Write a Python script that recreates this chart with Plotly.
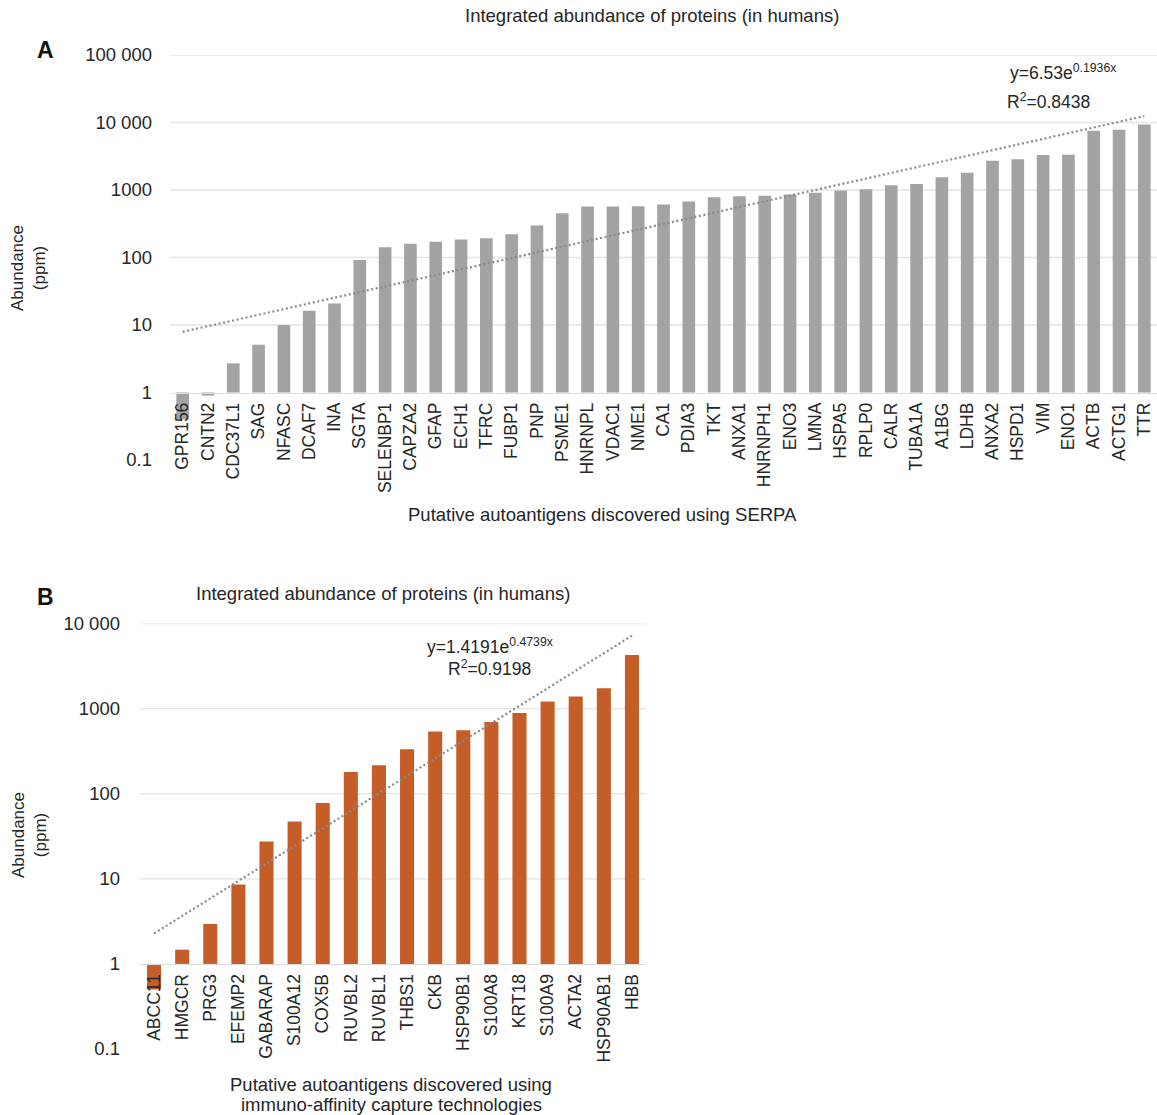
import math
import plotly.graph_objects as go

# ---------------- data ----------------
serpa_genes = [
    "GPR156", "CNTN2", "CDC37L1", "SAG", "NFASC", "DCAF7", "INA", "SGTA",
    "SELENBP1", "CAPZA2", "GFAP", "ECH1", "TFRC", "FUBP1", "PNP", "PSME1",
    "HNRNPL", "VDAC1", "NME1", "CA1", "PDIA3", "TKT", "ANXA1", "HNRNPH1",
    "ENO3", "LMNA", "HSPA5", "RPLP0", "CALR", "TUBA1A", "A1BG", "LDHB",
    "ANXA2", "HSPD1", "VIM", "ENO1", "ACTB", "ACTG1", "TTR",
]
serpa_ppm = [
    0.40, 0.90, 2.7, 5.1, 10.0, 16.2, 20.8, 92,
    142, 160, 171, 185, 193, 221, 298, 454,
    570, 570, 575, 610, 675, 783, 810, 820,
    858, 908, 984, 1028, 1180, 1225, 1549, 1796,
    2706, 2860, 3290, 3320, 7530, 7800, 9330,
]
serpa_fit_a, serpa_fit_b, serpa_r2 = 6.53, 0.1936, 0.8438

iac_genes = [
    "ABCC11", "HMGCR", "PRG3", "EFEMP2", "GABARAP", "S100A12", "COX5B",
    "RUVBL2", "RUVBL1", "THBS1", "CKB", "HSP90B1", "S100A8", "KRT18",
    "S100A9", "ACTA2", "HSP90AB1", "HBB",
]
iac_ppm = [
    0.50, 1.47, 2.95, 8.55, 27.4, 47, 78,
    180, 216, 333, 537, 557, 698, 890,
    1208, 1384, 1738, 4276,
]
iac_fit_a, iac_fit_b, iac_r2 = 1.4191, 0.4739, 0.9198

tickvals_a = [0.1, 1, 10, 100, 1000, 10000, 100000]
ticktext_a = ["0.1", "1", "10", "100", "1000", "10 000", "100 000"]
tickvals_b = [0.1, 1, 10, 100, 1000, 10000]
ticktext_b = ["0.1", "1", "10", "100", "1000", "10 000"]

BASELINE = 1  # bars grow up or down from the 1 ppm line

# ---------------- styling ----------------
W, H = 1157, 1115
FONT = "Liberation Sans, Arial, Helvetica, sans-serif"
TXT = "#262626"
GREY_BAR = "#a3a3a6"
ORANGE_BAR = "#c55d29"
TREND = "#8a8a8a"
GRID = "#e4e4e4"


def px(x):
    return x / W


def py(y):
    return 1 - y / H


def expo(a, b, n):
    """Exponential trend a*e^(b*x) evaluated at category index x = 1..n."""
    return [a * math.exp(b * (i + 1)) for i in range(n)]


fig = go.Figure()

# Panel A bars + exponential trend
fig.add_trace(go.Bar(
    x=serpa_genes, y=[v - BASELINE for v in serpa_ppm], base=BASELINE,
    marker=dict(color=GREY_BAR, line=dict(width=0)),
    xaxis="x", yaxis="y", showlegend=False,
))
fig.add_trace(go.Scatter(
    x=serpa_genes, y=expo(serpa_fit_a, serpa_fit_b, len(serpa_genes)),
    mode="lines", line=dict(color=TREND, width=2.2, dash="2px,2.6px"),
    xaxis="x", yaxis="y", showlegend=False,
))

# Panel B bars + exponential trend
fig.add_trace(go.Bar(
    x=iac_genes, y=[v - BASELINE for v in iac_ppm], base=BASELINE,
    marker=dict(color=ORANGE_BAR, line=dict(width=0)),
    xaxis="x2", yaxis="y2", showlegend=False,
))
fig.add_trace(go.Scatter(
    x=iac_genes, y=expo(iac_fit_a, iac_fit_b, len(iac_genes)),
    mode="lines", line=dict(color=TREND, width=2.2, dash="2px,2.6px"),
    xaxis="x2", yaxis="y2", showlegend=False,
))

dom_a_x = [px(170), 1.0]
dom_a_y = [py(460), py(55)]
dom_b_x = [px(140), px(646)]
dom_b_y = [py(1049), py(623.5)]

# x axis line sits on the 1 ppm level
pos_a = dom_a_y[0] + (dom_a_y[1] - dom_a_y[0]) * (0 - (-1)) / (5 - (-1))
pos_b = dom_b_y[0] + (dom_b_y[1] - dom_b_y[0]) * (0 - (-1)) / (4 - (-1))

xcommon = dict(
    type="category", tickangle=-90, ticks="", showgrid=False, zeroline=False,
    showline=True, linecolor="#dcdcdc", linewidth=1.3, automargin=False,
    tickfont=dict(family=FONT, size=17.5, color=TXT), ticklabelstandoff=2,
    anchor="free", fixedrange=True,
)
ycommon = dict(
    type="log", showgrid=False, zeroline=False, showline=False, ticks="",
    automargin=False, tickfont=dict(family=FONT, size=18.5, color=TXT),
    ticklabelstandoff=17, fixedrange=True,
)

fig.update_layout(
    width=W, height=H,
    margin=dict(l=0, r=0, t=0, b=0),
    paper_bgcolor="white", plot_bgcolor="white",
    bargap=0.5,
    xaxis=dict(xcommon, domain=dom_a_x, position=pos_a,
               range=[-0.5, len(serpa_genes) - 0.5]),
    yaxis=dict(ycommon, domain=dom_a_y, anchor="x", range=[-1, 5],
               tickvals=tickvals_a, ticktext=ticktext_a),
    xaxis2=dict(xcommon, domain=dom_b_x, position=pos_b,
                range=[-0.5, len(iac_genes) - 0.5]),
    yaxis2=dict(ycommon, domain=dom_b_y, anchor="x2", range=[-1, 4],
                tickvals=tickvals_b, ticktext=ticktext_b,
                ticklabelstandoff=19),
)

# horizontal gridlines (none at the 0.1 level)
shapes = []
for v in tickvals_a[2:]:
    shapes.append(dict(type="line", xref="x domain", yref="y", x0=0, x1=1,
                       y0=v, y1=v, line=dict(color=GRID, width=1.3),
                       layer="below"))
for v in tickvals_b[2:]:
    shapes.append(dict(type="line", xref="x2 domain", yref="y2", x0=0, x1=1,
                       y0=v, y1=v, line=dict(color=GRID, width=1.3),
                       layer="below"))
fig.update_layout(shapes=shapes)


def note(text, x, y, size=18.5, xanchor="center", angle=0, bold=False):
    fig.add_annotation(
        text=f"<b>{text}</b>" if bold else text,
        x=px(x), y=py(y), xref="paper", yref="paper",
        xanchor=xanchor, yanchor="middle", showarrow=False, textangle=angle,
        font=dict(family=FONT, size=size, color=TXT if not bold else "#111"),
    )


# Panel A texts
note("Integrated abundance of proteins (in humans)", 652, 15)
note("A", 45, 50, size=23, bold=True)
note("Abundance<br>(ppm)", 29, 268, size=17, angle=-90)
note("Putative autoantigens discovered using SERPA", 602, 514)
note(f"y={serpa_fit_a}e<sup>{serpa_fit_b}x</sup>", 1008, 72, size=17.5,
     xanchor="left")
note(f"R<sup>2</sup>={serpa_r2}", 1005, 101, size=17.5, xanchor="left")

# Panel B texts
note("Integrated abundance of proteins (in humans)", 383, 593)
note("B", 45, 597, size=23, bold=True)
note("Abundance<br>(ppm)", 29, 835, size=17, angle=-90)
note("Putative autoantigens discovered using", 391, 1084)
note("immuno-affinity capture technologies", 391, 1104)
note(f"y={iac_fit_a}e<sup>{iac_fit_b}x</sup>", 490, 646, size=17.5)
note(f"R<sup>2</sup>={iac_r2}", 489, 668, size=17.5)

fig.write_html("out.html")
